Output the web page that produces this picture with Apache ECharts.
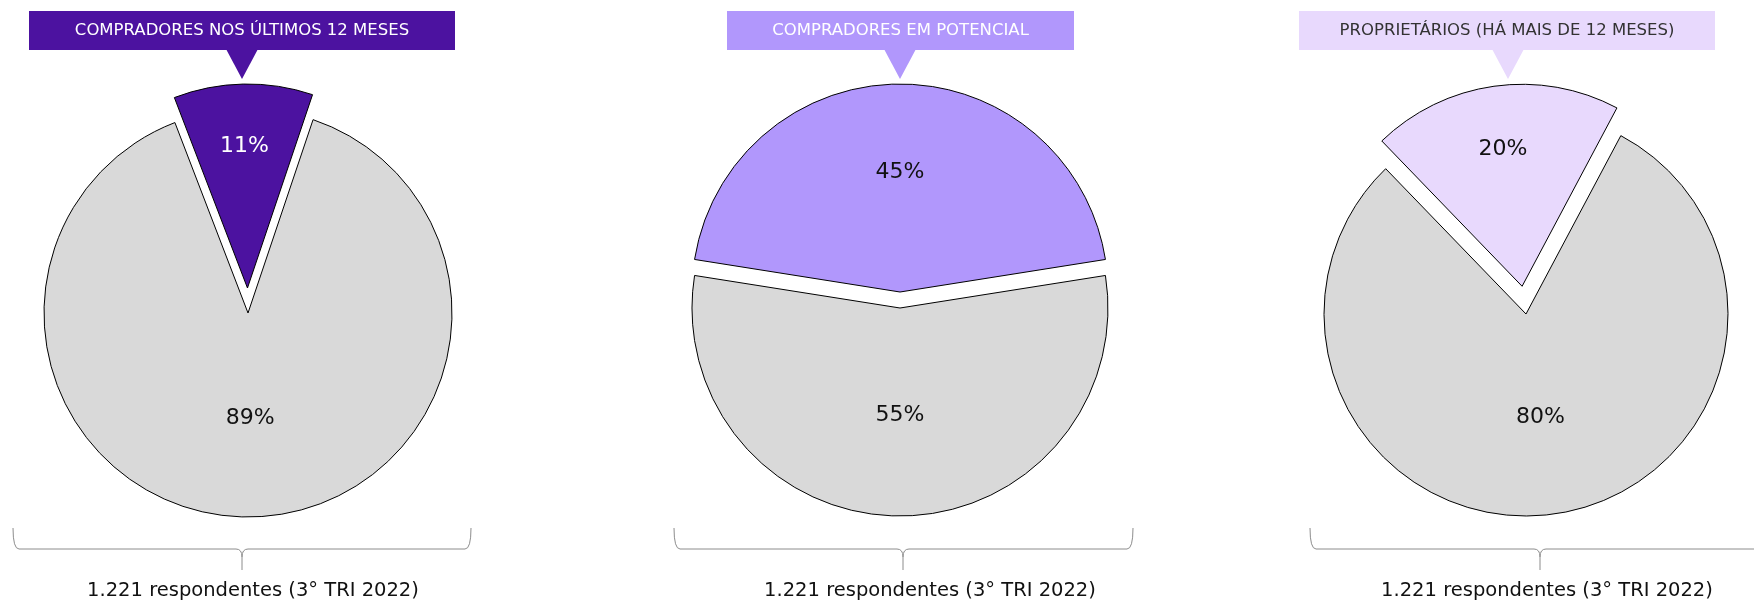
<!DOCTYPE html>
<html>
<head>
<meta charset="utf-8">
<script src="https://cdn.jsdelivr.net/npm/echarts@6/dist/echarts.min.js"></script>
<style>
    html, body { margin: 0; padding: 0; background: #fff; }
    #main { width: 1754px; height: 602px; }
</style>
</head>
<body>
<div id="main"></div>
<script type="text/javascript">
    // dados
    var groups = ['COMPRADORES NOS ÚLTIMOS 12 MESES', 'COMPRADORES EM POTENCIAL', 'PROPRIETÁRIOS (HÁ MAIS DE 12 MESES)'];
    var groupShare = [11, 45, 20];
    var otherShare = [89, 55, 80];
    var footnote = '1.221 respondentes (3° TRI 2022)';

    // aparência
    var mainColors = ['#4C12A0', '#B197FC', '#E8D9FD'];
    var boxText = ['#fff', '#fff', '#333'];
    var sliceLabel = ['#fff', '#111', '#111'];
    var centers = [[248, 313], [900, 308], [1526, 314]];
    var radii = [204, 208, 202];
    var startAngles = [111, 171, 134];
    var offsets = [25, 16, 28];
    var labelPos = [0.68, 0.56, 0.67];   // raio relativo do rótulo da fatia destacada
    var boxes = [[29, 455, 242], [727, 1074, 900], [1299, 1715, 1508]];
    var braces = [[13, 471, 242], [674, 1133, 903], [1310, 1780, 1540]];
    var footX = [253, 930, 1547];
    var font = '"DejaVu Sans", sans-serif';
    var braceStyle = { stroke: '#8c8c8c', lineWidth: 1, fill: null };

    var myChart = echarts.init(document.getElementById('main'));

    function curve(x1, y1, x2, y2, cx, cy) {
        return { type: 'bezierCurve', shape: { x1: x1, y1: y1, x2: x2, y2: y2, cpx1: cx, cpy1: cy }, style: braceStyle };
    }
    function seg(x1, y1, x2, y2) {
        return { type: 'line', shape: { x1: x1, y1: y1, x2: x2, y2: y2 }, style: braceStyle };
    }

    var series = [];
    var graphic = [];
    for (var i = 0; i < 3; i++) {
        (function (i) {
            series.push({
                type: 'pie',
                center: centers[i],
                radius: [0, radii[i]],
                startAngle: startAngles[i],
                clockwise: true,
                selectedMode: 'single',
                selectedOffset: offsets[i],
                avoidLabelOverlap: false,
                emphasis: { disabled: true },
                itemStyle: { borderColor: '#000', borderWidth: 1 },
                label: {
                    show: true,
                    position: 'inside',
                    formatter: '{c}%',
                    fontFamily: font,
                    fontSize: 22,
                    color: '#111'
                },
                labelLine: { show: false },
                labelLayout: function (p) {
                    if (p.dataIndex !== 0) return null;
                    var r = p.labelRect;
                    var lx = r.x + r.width / 2 - centers[i][0];
                    var ly = r.y + r.height / 2 - centers[i][1];
                    var d = Math.sqrt(lx * lx + ly * ly) || 1;
                    var k = (labelPos[i] - 0.5) * radii[i] / d;
                    return { dx: lx * k, dy: ly * k };
                },
                data: [
                    { name: groups[i], value: groupShare[i], selected: true,
                      itemStyle: { color: mainColors[i] },
                      label: { color: sliceLabel[i] } },
                    { name: 'Outros', value: otherShare[i],
                      itemStyle: { color: '#D9D9D9' } }
                ]
            });

            var b = boxes[i];
            graphic.push({
                type: 'rect', shape: { x: b[0], y: 11, width: b[1] - b[0], height: 39 },
                style: { fill: mainColors[i] }
            });
            graphic.push({
                type: 'polygon', shape: { points: [[b[2] - 16, 49], [b[2] + 16, 49], [b[2], 79]] },
                style: { fill: mainColors[i] }
            });
            graphic.push({
                type: 'text', x: (b[0] + b[1]) / 2, y: 31,
                style: { text: groups[i], fill: boxText[i], font: '16.5px ' + font, align: 'center', verticalAlign: 'middle' }
            });

            // chave
            var c = braces[i];
            graphic.push(curve(c[0], 528, c[0] + 6, 549, c[0], 549));
            graphic.push(seg(c[0] + 6, 549, c[2] - 6, 549));
            graphic.push(curve(c[2] - 6, 549, c[2], 557, c[2], 549));
            graphic.push(seg(c[2], 557, c[2], 570));
            graphic.push(curve(c[2] + 6, 549, c[2], 557, c[2], 549));
            graphic.push(seg(c[2] + 6, 549, c[1] - 6, 549));
            graphic.push(curve(c[1] - 6, 549, c[1], 528, c[1], 549));

            graphic.push({
                type: 'text', x: footX[i], y: 591,
                style: { text: footnote, fill: '#111', font: '19.5px ' + font, align: 'center', verticalAlign: 'middle' }
            });
        })(i);
    }

    var option = {
        animation: false,
        tooltip: { show: false },
        series: series,
        graphic: graphic
    };

    myChart.setOption(option);
</script>
</body>
</html>
